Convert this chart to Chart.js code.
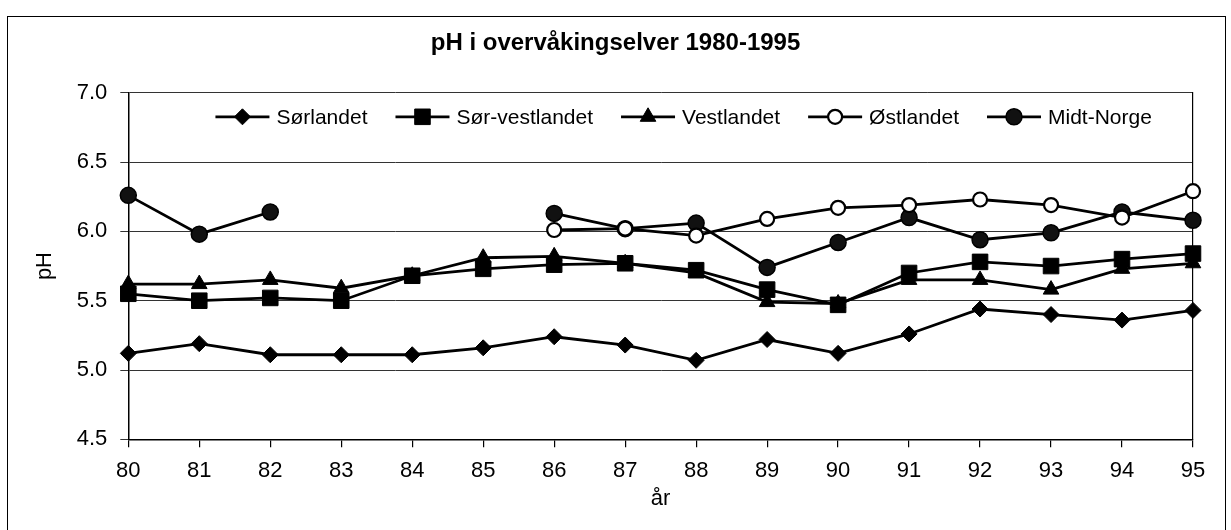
<!DOCTYPE html>
<html><head><meta charset="utf-8">
<script src="https://cdn.jsdelivr.net/npm/chart.js@4.4.0/dist/chart.umd.min.js"></script>
<style>
html,body{margin:0;padding:0;background:#fff;}
#wrap{position:relative;width:1231px;height:530px;overflow:hidden;background:#fff;}
#frame{position:absolute;left:7px;top:16px;width:1219px;height:600px;border:1.5px solid #000;box-sizing:border-box;}
canvas{position:absolute;left:0;top:0;}
</style></head><body>
<div id="wrap"><div id="frame"></div><canvas id="c" width="1231" height="530"></canvas></div>
<script>
const title = 'pH i overvåkingselver 1980-1995';
const xTitle = 'år';
const yTitle = 'pH';
const years = ['80','81','82','83','84','85','86','87','88','89','90','91','92','93','94','95'];
const seriesNames = ['Sørlandet','Sør-vestlandet','Vestlandet','Østlandet','Midt-Norge'];
const sorlandet      = [5.12,5.19,5.11,5.11,5.11,5.16,5.24,5.18,5.07,5.22,5.12,5.26,5.44,5.40,5.36,5.43];
const sorVestlandet  = [5.55,5.50,5.52,5.50,5.68,5.73,5.76,5.77,5.72,5.58,5.47,5.70,5.78,5.75,5.80,5.84];
const vestlandet     = [5.62,5.62,5.65,5.59,5.68,5.81,5.82,5.77,5.70,5.49,5.48,5.65,5.65,5.58,5.73,5.77];
const ostlandet      = [null,null,null,null,null,null,6.01,6.02,5.97,6.09,6.17,6.19,6.23,6.19,6.10,6.29];
const midtNorge      = [6.26,5.98,6.14,null,null,null,6.13,6.02,6.06,5.74,5.92,6.10,5.94,5.99,6.14,6.08];
const yMin = 4.5, yMax = 7.0, yStep = 0.5;

const FONT = '"Liberation Sans", Arial, sans-serif';

function ds(label, data, style, radius, fill, bw) {
  return {
    label, data,
    borderColor:'#000', borderWidth:2.8,
    pointStyle:style, pointRadius:radius, pointHoverRadius:radius,
    pointBackgroundColor:fill, pointBorderColor:'#000', pointBorderWidth:bw,
    spanGaps:false, tension:0, fill:false
  };
}

const legendPlugin = {
  id:'inlineLegend',
  afterDatasetsDraw(chart){
    const ctx = chart.ctx, area = chart.chartArea;
    ctx.save();
    ctx.font = '21px ' + FONT;
    const lineLen = 54, gap = 7, spacing = 28;
    const items = chart.data.datasets.map(d => ({d, w: ctx.measureText(d.label).width}));
    const total = items.reduce((s,it)=>s+lineLen+gap+it.w,0) + spacing*(items.length-1);
    let x = (area.left+area.right)/2 + 23 - total/2;
    const y = area.top + 24;
    for (const it of items){
      const d = it.d;
      ctx.strokeStyle='#000'; ctx.lineWidth=2.8;
      ctx.beginPath(); ctx.moveTo(x,y); ctx.lineTo(x+lineLen,y); ctx.stroke();
      ctx.fillStyle = d.pointBackgroundColor; ctx.strokeStyle = '#000'; ctx.lineWidth = d.pointBorderWidth;
      Chart.helpers.drawPoint(ctx, {pointStyle:d.pointStyle, radius:d.pointRadius, borderWidth:d.pointBorderWidth, rotation:0}, x+lineLen/2, y);
      ctx.fillStyle='#000'; ctx.textBaseline='middle'; ctx.textAlign='left';
      ctx.fillText(d.label, x+lineLen+gap, y+1);
      x += lineLen+gap+it.w+spacing;
    }
    ctx.restore();
  }
};

new Chart(document.getElementById('c'), {
  type:'line',
  data:{
    labels: years,
    datasets:[
      ds(seriesNames[0], sorlandet, 'rectRot', 8, '#000', 1),
      ds(seriesNames[1], sorVestlandet, 'rect', 11, '#000', 1),
      ds(seriesNames[2], vestlandet, 'triangle', 9, '#000', 1),
      ds(seriesNames[3], ostlandet, 'circle', 7, '#fff', 2.2),
      ds(seriesNames[4], midtNorge, 'circle', 8, '#111', 1.5)
    ]
  },
  options:{
    responsive:false, animation:false, devicePixelRatio:1,
    layout:{padding:0},
    plugins:{
      legend:{display:false},
      tooltip:{enabled:false},
      title:{display:true, text:title, color:'#000', font:{family:FONT, size:24, weight:'bold'}, padding:{top:29, bottom:35}}
    },
    scales:{
      x:{
        offset:false,
        grid:{drawOnChartArea:false, drawTicks:true, tickLength:8, color:'#000', lineWidth:1.2},
        border:{display:true, color:'#000', width:1.5},
        ticks:{color:'#000', font:{family:FONT, size:22}, padding:10, maxRotation:0, autoSkip:false},
        title:{display:true, text:xTitle, color:'#000', font:{family:FONT, size:22}, padding:{top:0,bottom:18}},
        afterFit(s){ s.height = 90.7; }
      },
      y:{
        min:yMin, max:yMax,
        grid:{color:'#333', lineWidth:1, drawTicks:true, tickLength:8},
        border:{display:true, color:'#000', width:1.5},
        ticks:{stepSize:yStep, color:'#000', font:{family:FONT, size:22}, padding:13, callback:v=>Number(v).toFixed(1)},
        title:{display:true, text:yTitle, color:'#000', font:{family:FONT, size:22}, padding:{top:32,bottom:0}},
        afterFit(s){ s.width = 128.3; }
      },
      y2:{
        position:'right', min:yMin, max:yMax,
        grid:{drawOnChartArea:false, drawTicks:false},
        border:{display:true, color:'#000', width:1.2},
        ticks:{display:false},
        afterFit(s){ s.width = 38; }
      }
    }
  },
  plugins:[legendPlugin]
});
</script>
</body></html>
